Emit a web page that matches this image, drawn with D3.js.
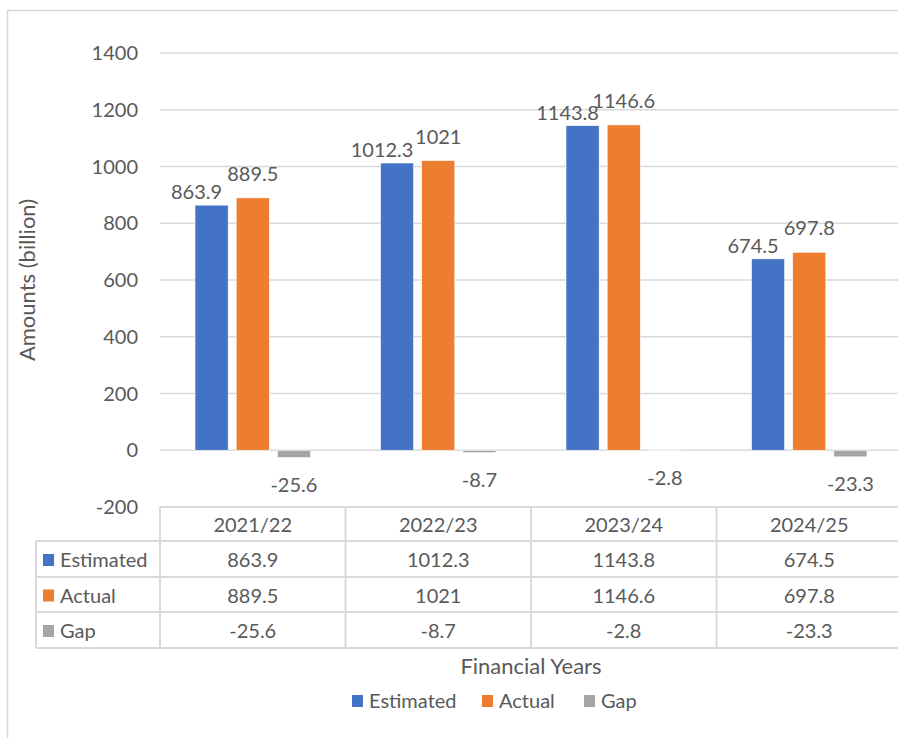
<!DOCTYPE html>
<html>
<head>
<meta charset="utf-8">
<script src="https://d3js.org/d3.v7.min.js"></script>
<style>
  body { margin: 0; background: #fff; }
  text { font-family: Lato, "Liberation Sans", sans-serif; fill: #595959; font-size: 20px; }
  .title { font-size: 22px; }
</style>
</head>
<body>
<script>
  // chart data
  var years = ["2021/22", "2022/23", "2023/24", "2024/25"];
  var seriesNames = ["Estimated", "Actual", "Gap"];
  var estimated = [863.9, 1012.3, 1143.8, 674.5];
  var actual = [889.5, 1021, 1146.6, 697.8];
  var gap = [-25.6, -8.7, -2.8, -23.3];
  var yTicks = [-200, 0, 200, 400, 600, 800, 1000, 1200, 1400];
  var colors = ["#4472C4", "#ED7D31", "#A5A5A5"];

  var values = [estimated, actual, gap];
  var width = 898, height = 738;
  var plotLeft = 160, plotRight = 902, plotTop = 53, plotBottom = 507;

  var svg = d3.select("body").append("svg")
    .attr("width", width)
    .attr("height", height);

  // outer frame
  svg.append("rect")
    .attr("x", 7.5).attr("y", 10.5)
    .attr("width", width + 10).attr("height", height + 10)
    .attr("fill", "none").attr("stroke", "#d9d9d9").attr("stroke-width", 1.5);

  var x = d3.scaleBand().domain(years).range([plotLeft, plotRight]);
  var xs = d3.scaleBand().domain(seriesNames)
    .range([35, x.bandwidth() - 35]).paddingInner(0.195);
  var y = d3.scaleLinear().domain([-200, 1400]).range([plotBottom, plotTop]);

  // gridlines
  svg.append("g").selectAll("line")
    .data(yTicks.slice(1))
    .join("line")
    .attr("x1", plotLeft).attr("x2", plotRight)
    .attr("y1", function(d) { return y(d); })
    .attr("y2", function(d) { return y(d); })
    .attr("stroke", "#d9d9d9").attr("stroke-width", 1.5);

  // y tick labels
  svg.append("g").selectAll("text")
    .data(yTicks)
    .join("text")
    .attr("x", 138)
    .attr("y", function(d) { return y(d); })
    .attr("dy", "0.35em")
    .attr("text-anchor", "end")
    .text(function(d) { return d; });

  // y axis title
  svg.append("text")
    .attr("class", "title")
    .attr("transform", "translate(35," + ((plotTop + plotBottom) / 2) + ") rotate(-90)")
    .attr("text-anchor", "middle")
    .text("Amounts (billion)");

  // bars
  var groups = svg.append("g").selectAll("g")
    .data(years)
    .join("g")
    .attr("transform", function(d) { return "translate(" + x(d) + ",0)"; });

  function cells(d, i) {
    return seriesNames.map(function(s, k) { return { s: s, k: k, v: values[k][i] }; });
  }

  groups.selectAll("rect")
    .data(cells)
    .join("rect")
    .attr("x", function(d) { return xs(d.s); })
    .attr("width", xs.bandwidth())
    .attr("y", function(d) { return y(Math.max(0, d.v)); })
    .attr("height", function(d) { return Math.abs(y(d.v) - y(0)); })
    .attr("fill", function(d) { return colors[d.k]; })
    .attr("stroke", "#fff").attr("stroke-width", 0.6);

  // data labels
  groups.selectAll("text")
    .data(cells)
    .join("text")
    .attr("x", function(d) {
      var cx = xs(d.s) + xs.bandwidth() / 2;
      return d.k === 0 ? cx - 15 : cx;
    })
    .attr("y", function(d) {
      if (d.v < 0) return y(d.v) + 34;
      return d.k === 0 ? y(d.v) - 6 : y(d.v) - 17;
    })
    .attr("text-anchor", "middle")
    .text(function(d) { return d.v; });

  // data table
  var rowTop = [507, 541, 577, 612, 648];
  var tbl = svg.append("g");
  var lineColor = "#d9d9d9";

  tbl.append("line")
    .attr("x1", plotLeft).attr("x2", plotRight)
    .attr("y1", rowTop[0]).attr("y2", rowTop[0])
    .attr("stroke", lineColor).attr("stroke-width", 2);
  tbl.selectAll(".hl")
    .data(rowTop.slice(1))
    .join("line")
    .attr("class", "hl")
    .attr("x1", 36).attr("x2", plotRight)
    .attr("y1", function(d) { return d; }).attr("y2", function(d) { return d; })
    .attr("stroke", lineColor).attr("stroke-width", 2);

  tbl.selectAll(".vl")
    .data(years)
    .join("line")
    .attr("class", "vl")
    .attr("x1", function(d) { return x(d); }).attr("x2", function(d) { return x(d); })
    .attr("y1", rowTop[0]).attr("y2", rowTop[4])
    .attr("stroke", lineColor).attr("stroke-width", 2);
  tbl.append("line")
    .attr("x1", 36).attr("x2", 36)
    .attr("y1", rowTop[1]).attr("y2", rowTop[4])
    .attr("stroke", lineColor).attr("stroke-width", 2);

  // header row
  tbl.selectAll(".hd")
    .data(years)
    .join("text")
    .attr("class", "hd")
    .attr("x", function(d) { return x(d) + x.bandwidth() / 2; })
    .attr("y", (rowTop[0] + rowTop[1]) / 2 + 1)
    .attr("dy", "0.35em")
    .attr("text-anchor", "middle")
    .text(function(d) { return d; });

  // series rows
  seriesNames.forEach(function(s, k) {
    var cy = (rowTop[k + 1] + rowTop[k + 2]) / 2 + 1;
    tbl.append("rect")
      .attr("x", 43).attr("y", cy - 6)
      .attr("width", 11).attr("height", 12)
      .attr("fill", colors[k]);
    tbl.append("text")
      .attr("x", 60).attr("y", cy)
      .attr("dy", "0.35em")
      .text(s);
    tbl.selectAll(".c" + k)
      .data(values[k])
      .join("text")
      .attr("class", "c" + k)
      .attr("x", function(d, i) { return x(years[i]) + x.bandwidth() / 2; })
      .attr("y", cy)
      .attr("dy", "0.35em")
      .attr("text-anchor", "middle")
      .text(function(d) { return d; });
  });

  // x axis title
  svg.append("text")
    .attr("class", "title")
    .attr("x", 531).attr("y", 674)
    .attr("text-anchor", "middle")
    .text("Financial Years");

  // legend
  var legendX = [352, 482, 584];
  var legend = svg.append("g").selectAll("g")
    .data(seriesNames)
    .join("g")
    .attr("transform", function(d, i) { return "translate(" + legendX[i] + ",695)"; });
  legend.append("rect")
    .attr("width", 11).attr("height", 12)
    .attr("fill", function(d, i) { return colors[i]; });
  legend.append("text")
    .attr("x", 17).attr("y", 13)
    .text(function(d) { return d; });
</script>
</body>
</html>
